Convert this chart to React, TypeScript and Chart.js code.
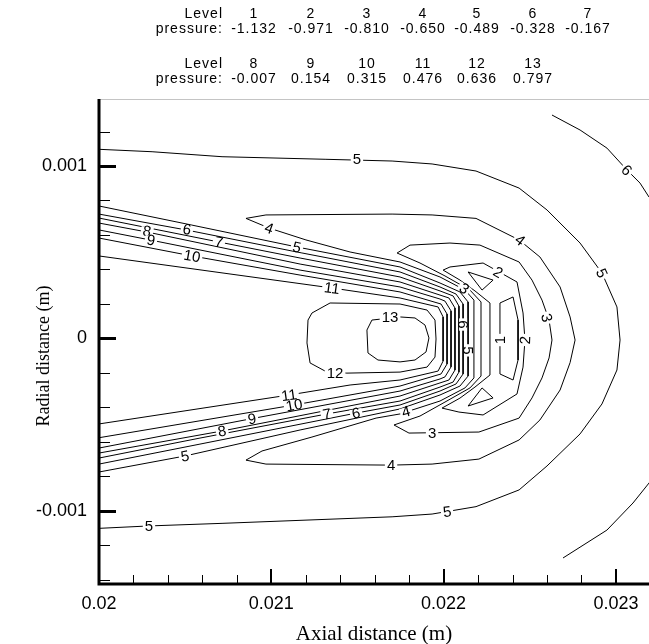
import React, { useEffect, useRef } from "react";
import { Chart, registerables } from "chart.js";

Chart.register(...registerables);

// ---- header table ----
const levelsRow1 = ["1", "2", "3", "4", "5", "6", "7"];
const pressuresRow1 = ["-1.132", "-0.971", "-0.810", "-0.650", "-0.489", "-0.328", "-0.167"];
const levelsRow2 = ["8", "9", "10", "11", "12", "13"];
const pressuresRow2 = ["-0.007", "0.154", "0.315", "0.476", "0.636", "0.797"];

// ---- axes ----
const xTitle = "Axial distance (m)";
const yTitle = "Radial distance (m)";
const xTickValues = [0.02, 0.021, 0.022, 0.023];
const xTickLabels = ["0.02", "0.021", "0.022", "0.023"];
const yTickValues = [-0.001, 0, 0.001];
const yTickLabels = ["-0.001", "0", "0.001"];
const X_MIN = 0.02;
const X_MAX = 0.023192;
const Y_MIN = -0.001426;
const Y_MAX = 0.001389;

// ---- contour lines, points as [axial mm, radial mm] ----
const level1Rect = [[22.327, 0.205], [22.403, 0.240], [22.432, 0.106], [22.432, -0.126], [22.403, -0.242], [22.327, -0.207], [22.327, 0.205]];
const level1TriUp = [[22.142, 0.385], [22.287, 0.338], [22.223, 0.280], [22.142, 0.385]];
const level1TriDown = [[22.142, -0.393], [22.287, -0.346], [22.223, -0.288], [22.142, -0.393]];
const level2 = [[21.997, 0.396], [22.037, 0.414], [22.229, 0.437], [22.426, 0.327], [22.461, 0.147], [22.472, -0.010], [22.461, -0.167], [22.426, -0.323], [22.229, -0.445], [22.089, -0.428], [21.991, -0.405], [22.095, -0.347], [22.182, -0.283], [22.269, -0.213], [22.269, 0.205], [22.182, 0.275], [22.095, 0.338], [21.997, 0.396]];
const level3 = [[21.730, 0.495], [21.805, 0.541], [22.037, 0.553], [22.211, 0.541], [22.438, 0.443], [22.513, 0.338], [22.571, 0.222], [22.612, 0.106], [22.629, -0.010], [22.612, -0.114], [22.571, -0.230], [22.513, -0.346], [22.438, -0.463], [22.205, -0.544], [21.799, -0.550], [21.712, -0.503], [21.863, -0.451], [22.008, -0.370], [22.153, -0.288], [22.217, -0.219], [22.217, 0.211], [22.153, 0.280], [22.008, 0.362], [21.863, 0.437], [21.730, 0.495]];
const level4 = [[20.853, 0.696], [20.969, 0.716], [21.701, 0.721], [21.933, 0.716], [22.188, 0.696], [22.438, 0.571], [22.559, 0.472], [22.676, 0.298], [22.734, 0.124], [22.763, -0.010], [22.734, -0.141], [22.676, -0.300], [22.559, -0.474], [22.438, -0.590], [22.205, -0.701], [21.933, -0.730], [21.695, -0.736], [20.969, -0.730], [20.853, -0.707], [20.946, -0.654], [21.236, -0.573], [21.608, -0.463], [21.747, -0.439], [21.979, -0.364], [22.124, -0.288], [22.176, -0.230], [22.176, 0.222], [22.124, 0.280], [21.979, 0.356], [21.747, 0.443], [21.457, 0.501], [21.201, 0.571], [20.987, 0.640], [20.853, 0.696]];
const level5Band = [[20.000, 0.768], [20.511, 0.663], [21.149, 0.530], [21.747, 0.414], [21.979, 0.321], [22.095, 0.269], [22.142, 0.211], [22.142, -0.219], [22.095, -0.277], [21.979, -0.329], [21.747, -0.410], [21.167, -0.532], [20.499, -0.683], [20.000, -0.776]];
const level5Outer = [[20.000, 1.097], [20.308, 1.083], [20.714, 1.054], [21.317, 1.039], [21.701, 1.029], [21.933, 1.012], [22.188, 0.971], [22.438, 0.872], [22.600, 0.745], [22.792, 0.553], [22.919, 0.379], [23.006, 0.182], [23.024, -0.010], [23.006, -0.184], [22.919, -0.381], [22.792, -0.555], [22.600, -0.741], [22.438, -0.880], [22.188, -0.977], [21.933, -1.020], [21.701, -1.036], [20.714, -1.074], [20.290, -1.089], [20.000, -1.103]];
const level6Band = [[20.000, 0.721], [20.511, 0.628], [21.149, 0.501], [21.747, 0.385], [21.979, 0.298], [22.072, 0.257], [22.113, 0.199], [22.113, -0.207], [22.072, -0.265], [21.979, -0.306], [21.747, -0.387], [21.492, -0.434], [20.586, -0.614], [20.000, -0.730]];
const level6Upper = [[22.629, 1.296], [22.792, 1.209], [22.948, 1.104], [23.064, 0.977], [23.140, 0.901], [23.192, 0.820], [23.227, 0.768]];
const level6Lower = [[23.227, -0.793], [23.192, -0.840], [23.099, -0.956], [22.948, -1.113], [22.693, -1.275]];
const level7 = [[20.000, 0.698], [20.696, 0.559], [21.167, 0.466], [21.747, 0.356], [21.979, 0.275], [22.055, 0.246], [22.089, 0.187], [22.089, -0.196], [22.055, -0.254], [21.979, -0.283], [21.747, -0.364], [21.323, -0.439], [20.586, -0.579], [20.000, -0.695]];
const level8 = [[20.000, 0.669], [20.279, 0.617], [21.167, 0.431], [21.747, 0.327], [21.979, 0.251], [22.031, 0.234], [22.066, 0.176], [22.066, -0.184], [22.031, -0.242], [21.979, -0.259], [21.747, -0.335], [20.714, -0.538], [20.000, -0.666]];
const level9 = [[20.000, 0.629], [20.296, 0.571], [21.167, 0.396], [21.747, 0.298], [21.979, 0.228], [22.008, 0.216], [22.043, 0.159], [22.043, -0.166], [22.008, -0.224], [21.979, -0.236], [21.747, -0.306], [20.888, -0.466], [20.000, -0.637]];
const level10 = [[20.000, 0.582], [20.540, 0.478], [21.167, 0.367], [21.747, 0.269], [21.985, 0.199], [22.020, 0.141], [22.020, -0.149], [21.985, -0.207], [21.747, -0.277], [21.132, -0.387], [20.000, -0.577]];
const level11 = [[20.000, 0.478], [21.352, 0.292], [21.747, 0.234], [21.968, 0.182], [21.997, 0.124], [21.997, -0.132], [21.968, -0.190], [21.747, -0.242], [21.457, -0.271], [21.103, -0.329], [20.000, -0.497]];
const level12 = [[21.341, 0.205], [21.747, 0.199], [21.904, 0.164], [21.950, 0.106], [21.956, -0.004], [21.950, -0.109], [21.904, -0.167], [21.747, -0.196], [21.439, -0.202], [21.323, -0.196], [21.225, -0.143], [21.207, -0.027], [21.213, 0.106], [21.236, 0.147], [21.341, 0.205]];
const level13 = [[21.584, 0.106], [21.747, 0.124], [21.834, 0.118], [21.892, 0.077], [21.915, 0.002], [21.898, -0.079], [21.834, -0.126], [21.747, -0.137], [21.619, -0.126], [21.561, -0.085], [21.555, 0.048], [21.584, 0.106]];

// contour labels: [axial mm, radial mm, text, angle deg]
const contourLabels: [number, number, string, number][] = [
  [21.497, 1.039, "5", 0],
  [23.064, 0.977, "6", 45],
  [22.444, 0.571, "4", 38],
  [22.919, 0.379, "5", 65],
  [22.600, 0.119, "3", 78],
  [22.316, 0.384, "2", 30],
  [22.472, -0.010, "2", -88],
  [22.327, -0.010, "1", -90],
  [21.933, -0.551, "3", 0],
  [21.695, -0.736, "4", 0],
  [21.782, -0.425, "4", -15],
  [22.020, -1.006, "5", -8],
  [20.290, -1.089, "5", 0],
  [20.499, -0.683, "5", -10],
  [21.492, -0.434, "6", -10],
  [21.323, -0.439, "7", -10],
  [20.714, -0.538, "8", -10],
  [20.888, -0.466, "9", -10],
  [21.132, -0.387, "10", -10],
  [21.103, -0.329, "11", -8],
  [20.279, 0.623, "8", 10],
  [20.302, 0.571, "9", 10],
  [20.511, 0.634, "6", 10],
  [20.696, 0.559, "7", 10],
  [20.540, 0.478, "10", 10],
  [21.149, 0.530, "5", 12],
  [20.987, 0.640, "4", 20],
  [21.352, 0.292, "11", 8],
  [21.370, -0.201, "12", 0],
  [21.689, 0.124, "13", 0],
  [22.120, 0.290, "3", 35],
  [22.113, 0.080, "6", 90],
  [22.142, -0.070, "5", 90],
];

const contours = [
  level1Rect, level1TriUp, level1TriDown, level2, level3, level4,
  level5Band, level5Outer, level6Band, level6Upper, level6Lower,
  level7, level8, level9, level10, level11, level12, level13,
];

const SANS = "'Liberation Sans', Arial, sans-serif";
const SERIF = "'Liberation Serif', 'Times New Roman', serif";

const framePlugin = {
  id: "frame",
  afterDatasetsDraw(chart: any) {
    const { ctx, chartArea } = chart;
    const xs = chart.scales.x;
    const ys = chart.scales.y;
    const { left, right, top, bottom } = chartArea;
    ctx.save();
    ctx.strokeStyle = "#c4c4c4";
    ctx.lineWidth = 1;
    ctx.beginPath();
    ctx.moveTo(left, top + 0.5);
    ctx.lineTo(right, top + 0.5);
    ctx.stroke();
    ctx.strokeStyle = "#000";
    ctx.lineWidth = 1;
    for (let i = 0; i <= 16; i++) {
      const v = 0.02 + i * 0.0002;
      if (v > X_MAX) break;
      const px = Math.round(xs.getPixelForValue(v)) + 0.5;
      ctx.beginPath();
      ctx.moveTo(px, bottom);
      ctx.lineTo(px, bottom - 9);
      ctx.stroke();
    }
    for (let i = -7; i <= 6; i++) {
      const v = i * 0.0002;
      if (v < Y_MIN || v > Y_MAX) continue;
      const py = Math.round(ys.getPixelForValue(v)) + 0.5;
      ctx.beginPath();
      ctx.moveTo(left, py);
      ctx.lineTo(left + 11, py);
      ctx.stroke();
    }
    ctx.lineWidth = 2;
    xTickValues.forEach((v) => {
      const px = Math.round(xs.getPixelForValue(v));
      ctx.beginPath();
      ctx.moveTo(px, bottom);
      ctx.lineTo(px, bottom - 15);
      ctx.stroke();
    });
    ctx.lineWidth = 3;
    yTickValues.forEach((v) => {
      const py = Math.round(ys.getPixelForValue(v)) + 0.5;
      ctx.beginPath();
      ctx.moveTo(left, py);
      ctx.lineTo(left + 17, py);
      ctx.stroke();
    });
    ctx.lineWidth = 3;
    ctx.beginPath();
    ctx.moveTo(left, top);
    ctx.lineTo(left, bottom);
    ctx.lineTo(right, bottom);
    ctx.stroke();

    // axis titles
    ctx.fillStyle = "#000";
    ctx.textAlign = "center";
    ctx.textBaseline = "middle";
    ctx.font = `21px ${SERIF}`;
    ctx.fillText(xTitle, (left + right) / 2, 634);
    ctx.save();
    ctx.translate(44, 356);
    ctx.rotate(-Math.PI / 2);
    ctx.font = `18px ${SERIF}`;
    ctx.fillText(yTitle, 0, 0);
    ctx.restore();
    ctx.restore();
  },
};

const labelPlugin = {
  id: "contourLabels",
  afterDatasetsDraw(chart: any) {
    const { ctx } = chart;
    const xs = chart.scales.x;
    const ys = chart.scales.y;
    ctx.save();
    ctx.font = `15px ${SANS}`;
    ctx.textAlign = "center";
    ctx.textBaseline = "middle";
    contourLabels.forEach(([x, y, t, a]) => {
      const px = xs.getPixelForValue(x / 1000);
      const py = ys.getPixelForValue(y / 1000);
      const w = ctx.measureText(t).width;
      ctx.save();
      ctx.translate(px, py);
      ctx.rotate((a * Math.PI) / 180);
      ctx.fillStyle = "#fff";
      ctx.fillRect(-w / 2 - 2, -4, w + 4, 8);
      ctx.fillStyle = "#000";
      ctx.fillText(t, 0, 1);
      ctx.restore();
    });
    ctx.restore();
  },
};

const headerFont: React.CSSProperties = {
  position: "absolute",
  fontFamily: SANS,
  fontSize: 14,
  lineHeight: "14px",
  letterSpacing: "1px",
  color: "#000",
  whiteSpace: "nowrap",
};

const colCenters = [254, 311, 367, 423, 477, 533, 588];

function HeaderRow({ top, labels, values }: { top: number; labels: string[]; values: string[] }) {
  return (
    <>
      <div style={{ ...headerFont, top, right: 649 - 223, textAlign: "right" }}>Level</div>
      <div style={{ ...headerFont, top: top + 15, right: 649 - 223, textAlign: "right" }}>pressure:</div>
      {labels.map((l, i) => (
        <div key={"l" + i} style={{ ...headerFont, top, left: colCenters[i], transform: "translateX(-50%)" }}>{l}</div>
      ))}
      {values.map((v, i) => (
        <div key={"v" + i} style={{ ...headerFont, top: top + 15, left: colCenters[i], transform: "translateX(-50%)" }}>{v}</div>
      ))}
    </>
  );
}

export default function App() {
  const ref = useRef<HTMLCanvasElement>(null);
  useEffect(() => {
    const datasets = contours.map((pts) => ({
      data: pts.map(([x, y]) => ({ x: x / 1000, y: y / 1000 })),
      showLine: true,
      borderColor: "#000",
      borderWidth: 1,
      pointRadius: 0,
      pointHoverRadius: 0,
      fill: false,
      tension: 0,
    }));
    const chart = new Chart(ref.current as HTMLCanvasElement, {
      type: "scatter",
      data: { datasets },
      options: {
        responsive: false,
        animation: false,
        events: [],
        layout: { padding: { top: 99, left: 0, right: 0, bottom: 0 } },
        plugins: { legend: { display: false }, tooltip: { enabled: false } },
        scales: {
          x: {
            type: "linear",
            min: X_MIN,
            max: X_MAX,
            grid: { display: false, drawTicks: false },
            border: { display: false },
            afterBuildTicks: (s: any) => {
              s.ticks = xTickValues.map((v) => ({ value: v }));
            },
            afterFit: (s: any) => {
              s.height = 60;
            },
            ticks: {
              autoSkip: false,
              maxRotation: 0,
              padding: 9,
              color: "#000",
              font: { family: SANS, size: 18 },
              callback: (_v: any, i: number) => xTickLabels[i],
            },
            title: { display: false },
          },
          y: {
            type: "linear",
            min: Y_MIN,
            max: Y_MAX,
            grid: { display: false, drawTicks: false },
            border: { display: false },
            afterBuildTicks: (s: any) => {
              s.ticks = yTickValues.map((v) => ({ value: v }));
            },
            afterFit: (s: any) => {
              s.width = 99;
            },
            ticks: {
              autoSkip: false,
              padding: 12,
              color: "#000",
              font: { family: SANS, size: 18 },
              callback: (_v: any, i: number) => yTickLabels[i],
            },
            title: { display: false },
          },
        },
      },
      plugins: [framePlugin, labelPlugin],
    } as any);
    return () => chart.destroy();
  }, []);

  return (
    <div style={{ position: "absolute", left: 0, top: 0, width: 649, height: 644, background: "#fff", overflow: "hidden" }}>
      <canvas ref={ref} width={649} height={644} style={{ position: "absolute", left: 0, top: 0, width: 649, height: 644 }} />
      <HeaderRow top={6} labels={levelsRow1} values={pressuresRow1} />
      <HeaderRow top={56} labels={levelsRow2} values={pressuresRow2} />
    </div>
  );
}
